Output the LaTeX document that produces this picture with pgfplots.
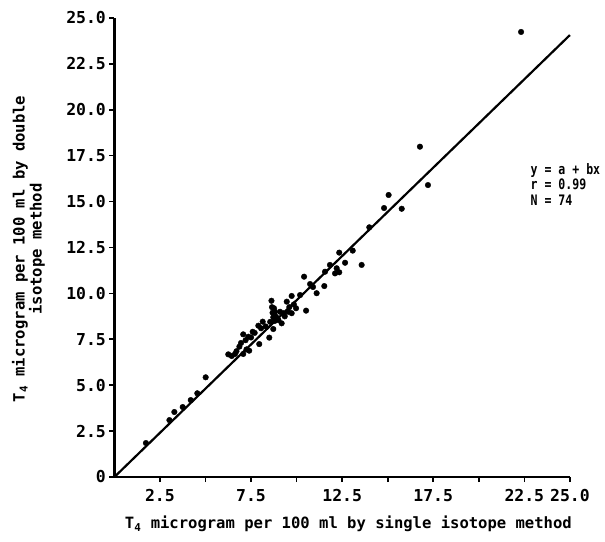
\documentclass[border=0pt]{standalone}
\usepackage{pgfplots}
\pgfplotsset{compat=1.18}
\usepackage{fontspec}
\setmainfont{DejaVu Sans Mono}
\newfontfamily\annfont[FakeStretch=0.8]{DejaVu Sans Mono}

% T4 values: single isotope method (x) vs double isotope method (y)
\pgfplotstableread{
x y
1.73 1.85
3.02 3.10
3.29 3.54
3.75 3.81
4.19 4.19
4.55 4.56
5.01 5.43
6.25 6.68
6.44 6.59
6.62 6.70
6.70 6.85
6.86 7.10
6.95 7.30
7.07 6.70
7.07 7.77
7.20 7.45
7.25 6.95
7.35 7.64
7.40 6.88
7.50 7.60
7.59 7.91
7.70 7.85
7.90 8.24
7.95 7.24
8.05 8.10
8.14 8.46
8.30 8.20
8.50 7.59
8.55 8.45
8.62 9.60
8.65 9.25
8.68 8.95
8.72 8.06
8.72 8.70
8.76 9.19
8.80 8.50
8.81 9.00
8.87 8.73
8.95 8.60
9.00 8.55
9.09 9.00
9.18 8.37
9.27 8.92
9.35 8.75
9.46 9.55
9.54 9.00
9.60 9.25
9.73 9.86
9.73 8.92
9.85 9.40
9.97 9.19
10.19 9.91
10.41 10.91
10.52 9.06
10.74 10.51
10.90 10.35
11.10 10.01
11.52 10.40
11.56 11.18
11.83 11.55
12.11 11.09
12.20 11.37
12.34 11.15
12.34 12.22
12.66 11.67
13.08 12.33
13.57 11.55
13.99 13.60
14.80 14.65
15.05 15.36
15.77 14.61
16.77 17.99
17.21 15.90
22.32 24.24
}\tfourdata

\begin{document}
\begin{tikzpicture}[font=\bfseries]
\path[use as bounding box] (-114.4bp,-65bp) rectangle (490.6bp,477bp);
\begin{axis}[
  anchor=south west, at={(0,0)},
  x=18.22bp, y=18.36bp,
  xmin=0, xmax=25, ymin=0, ymax=25,
  axis x line=bottom, axis y line=left,
  axis line style={-, line width=2.4bp, black},
  tick style={line width=1.6bp, black},
  tick align=outside,
  major tick length=5bp,
  xtick={2.5,5,7.5,10,12.5,15,17.5,20,22.5,25},
  xticklabels={2.5,,7.5,,12.5,,17.5,,22.5,25.0},
  ytick={0,2.5,5,7.5,10,12.5,15,17.5,20,22.5,25},
  yticklabels={0,2.5,5.0,7.5,10.0,12.5,15.0,17.5,20.0,22.5,25.0},
  ticklabel style={font=\fontsize{16.5}{18}\selectfont\bfseries},
  xticklabel style={yshift=-4bp},
  clip=false,
]
\addplot[black, line width=2.2bp] coordinates {(0,0) (25,24.07)};
\addplot[only marks, mark=*, mark size=2.8bp, black] table[x=x, y=y] {\tfourdata};
\end{axis}
\node[rotate=90, align=center, font=\fontsize{15.6}{17}\selectfont\bfseries]
  at (-86bp,228bp) {T\textsubscript{4} microgram per 100 ml by double\\isotope method};
\node[font=\fontsize{15.6}{17}\selectfont\bfseries]
  at (234bp,-47bp) {T\textsubscript{4} microgram per 100 ml by single isotope method};
\node[anchor=north west, align=left, inner sep=0pt, font=\annfont\fontsize{14.5}{15.5}\selectfont\bfseries]
  at (416bp,314bp) {y = a + bx\\r = 0.99\\N = 74};
\end{tikzpicture}
\end{document}
